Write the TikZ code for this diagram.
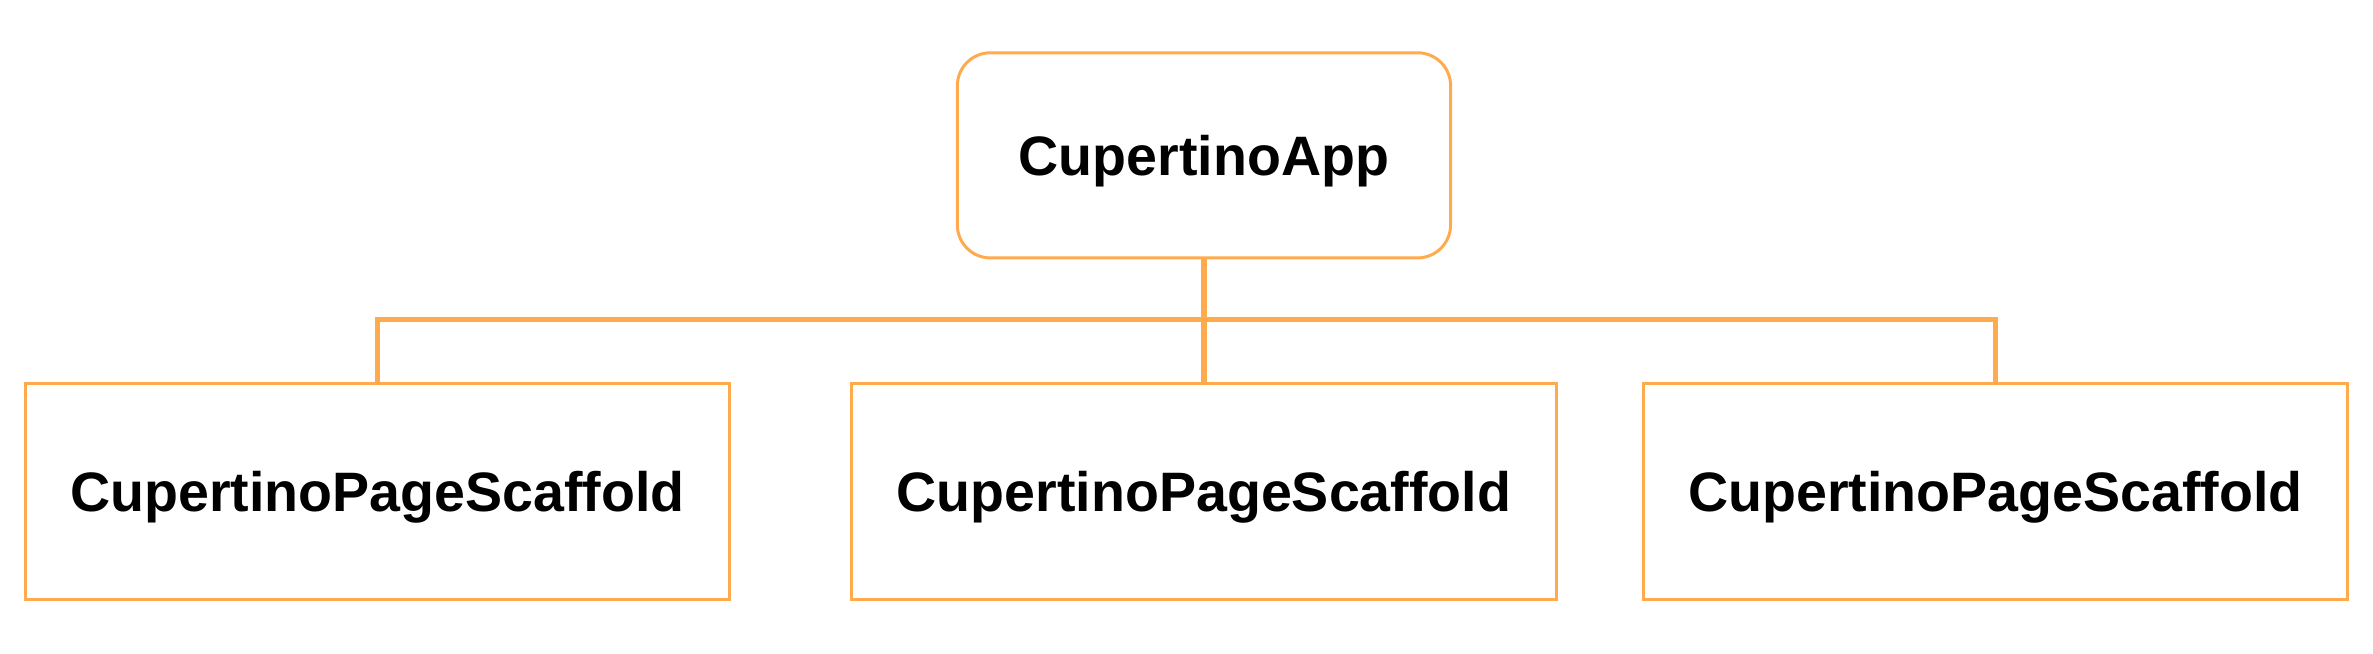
\documentclass[tikz,border=0pt]{standalone}
\usepackage{fontspec}
\setmainfont{Liberation Sans}
\usepackage{xcolor}
\usetikzlibrary{positioning}
\definecolor{treeorange}{RGB}{255,170,76}

\begin{document}
\begin{tikzpicture}[x=0.01cm,y=0.01cm,
  rootnode/.style={rectangle, rounded corners=0.33cm, draw=treeorange, line width=0.85pt, minimum width=4.93cm, minimum height=2.05cm, text depth=0pt, font=\fontsize{15.8pt}{19pt}\selectfont\bfseries},
  pagenode/.style={rectangle, draw=treeorange, line width=0.85pt, minimum width=7.04cm, minimum height=2.15cm, text depth=0pt, font=\fontsize{15.8pt}{19pt}\selectfont\bfseries},
  link/.style={draw=treeorange, line width=1.6pt}]
            \useasboundingbox (0,0) rectangle (2373,-653);
            %Nodes
            \node[pagenode](leftpage) at (377.5,-491.5){CupertinoPageScaffold};
            \node[pagenode](middlepage)[right=1.19cm of leftpage]{CupertinoPageScaffold};
            \node[pagenode](rightpage)[right=0.84cm of middlepage]{CupertinoPageScaffold};
            \node[rootnode](app)[above=1.23cm of middlepage]{CupertinoApp};

            %Lines
            \draw[link] (app.south) -- (middlepage.north);
            \draw[link] (leftpage.north) -- ++(0,63) -| (rightpage.north);
        \end{tikzpicture}
\end{document}
